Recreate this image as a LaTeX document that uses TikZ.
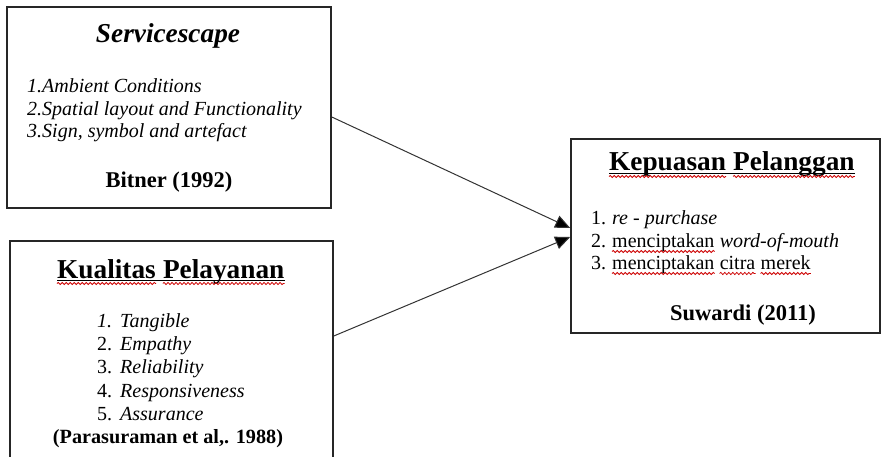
\documentclass[tikz,border=0pt]{standalone}
\usepackage{fontspec}
\setmainfont{Liberation Serif}
\usetikzlibrary{arrows.meta,decorations.pathmorphing}
\begin{document}
\begin{tikzpicture}[x=1pt,y=-1pt,
  box/.style={draw=black!85,line width=1.6pt,inner sep=0pt},
  txt/.style={inner sep=0pt,anchor=base west},
  ttl/.style={txt,font=\fontsize{27.3}{30}\selectfont\bfseries},
  ttlit/.style={inner sep=0pt,anchor=base,font=\fontsize{27.3}{30}\selectfont\bfseries\itshape},
  itm/.style={txt,font=\fontsize{20}{23}\selectfont},
  itmit/.style={txt,font=\fontsize{20}{23}\selectfont\itshape},
  refer/.style={inner sep=0pt,anchor=base,font=\fontsize{22.5}{25}\selectfont\bfseries},
  uline/.style={draw=black,line width=1.4pt},
  wave/.style={draw=red!80!black,line width=0.8pt,decorate,decoration={snake,segment length=4pt,amplitude=1.1pt}},
  arr/.style={draw=black!80,line width=1pt,-{Triangle[length=15pt,width=13pt,fill=black]}}
]
\useasboundingbox (0,0) rectangle (883,457);
\clip (0,0) rectangle (883,457);

% boxes
\node[box,minimum width=324pt,minimum height=201pt] (b1) at (169,107.5) {};
\node[box,minimum width=323pt,minimum height=229pt] (b2) at (171.5,355.5) {};
\node[box,minimum width=309pt,minimum height=194pt] (b3) at (725.5,236) {};

% box 1
\node[ttlit] (t1) at (168,43) {Servicescape};
\node[itmit] (s1) at (27,93) {1.Ambient Conditions};
\node[itmit] (s2) at (27,115.5) {2.Spatial layout and Functionality};
\node[itmit] (s3) at (27,138) {3.Sign, symbol and artefact};
\node[refer] (r1) at (169,188) {Bitner (1992)};

% box 2
\node[ttl] (k1) at (57,278) {Kualitas};
\node[ttl] (k2) at ([xshift=6.8pt]k1.base east) {Pelayanan};
\draw[uline] ([yshift=-2.5pt]k1.base west) -- ([yshift=-2.5pt]k2.base east);
\draw[wave] ([yshift=-5.5pt]k1.base west) -- ([yshift=-5.5pt]k1.base east);
\draw[wave] ([yshift=-5.5pt]k2.base west) -- ([yshift=-5.5pt]k2.base east);
\node[itmit] (n21) at (97,327) {1.};
\node[itm] (n22) at (97,350) {2.};
\node[itm] (n23) at (97,373.5) {3.};
\node[itm] (n24) at (97,397) {4.};
\node[itm] (n25) at (97,420) {5.};
\node[itmit] (q1) at (120,327) {Tangible};
\node[itmit] (q2) at (120,350) {Empathy};
\node[itmit] (q3) at (120,373.5) {Reliability};
\node[itmit] (q4) at (120,397) {Responsiveness};
\node[itmit] (q5) at (120,420) {Assurance};
\node[refer,font=\fontsize{20.2}{22}\selectfont\bfseries] (r2) at (168,443) {(Parasuraman et al,. 1988)};

% box 3
\node[ttl] (p1) at (609,171) {Kepuasan};
\node[ttl] (p2) at ([xshift=6.8pt]p1.base east) {Pelanggan};
\draw[uline] ([yshift=-2.5pt]p1.base west) -- ([yshift=-2.5pt]p2.base east);
\draw[wave] ([yshift=-5.5pt]p1.base west) -- ([yshift=-5.5pt]p1.base east);
\draw[wave] ([yshift=-5.5pt]p2.base west) -- ([yshift=-5.5pt]p2.base east);
\node[itm] (n31) at (591,225) {1.};
\node[itm] (n32) at (591,247) {2.};
\node[itm] (n33) at (591,269) {3.};
\node[itmit] (u1) at (612,225) {re - purchase};
\node[itm] (m1) at (612,247) {menciptakan};
\node[itmit] (w1) at ([xshift=5pt]m1.base east) {word-of-mouth};
\node[itm] (m2) at (612,269) {menciptakan};
\node[itm] (c2) at ([xshift=5pt]m2.base east) {citra};
\node[itm] (e2) at ([xshift=5pt]c2.base east) {merek};
\foreach \w in {m1,m2,c2,e2}{
  \draw[wave] ([yshift=-4.5pt]\w.base west) -- ([yshift=-4.5pt]\w.base east);
}
\node[refer] (r3) at (743,320) {Suwardi (2011)};

% connectors
\draw[arr] ([yshift=-9.5pt]b1.east) -- ([yshift=8pt]b3.west);
\draw[arr] ([yshift=19.5pt]b2.east) -- ([yshift=-1pt]b3.west);
\end{tikzpicture}
\end{document}
